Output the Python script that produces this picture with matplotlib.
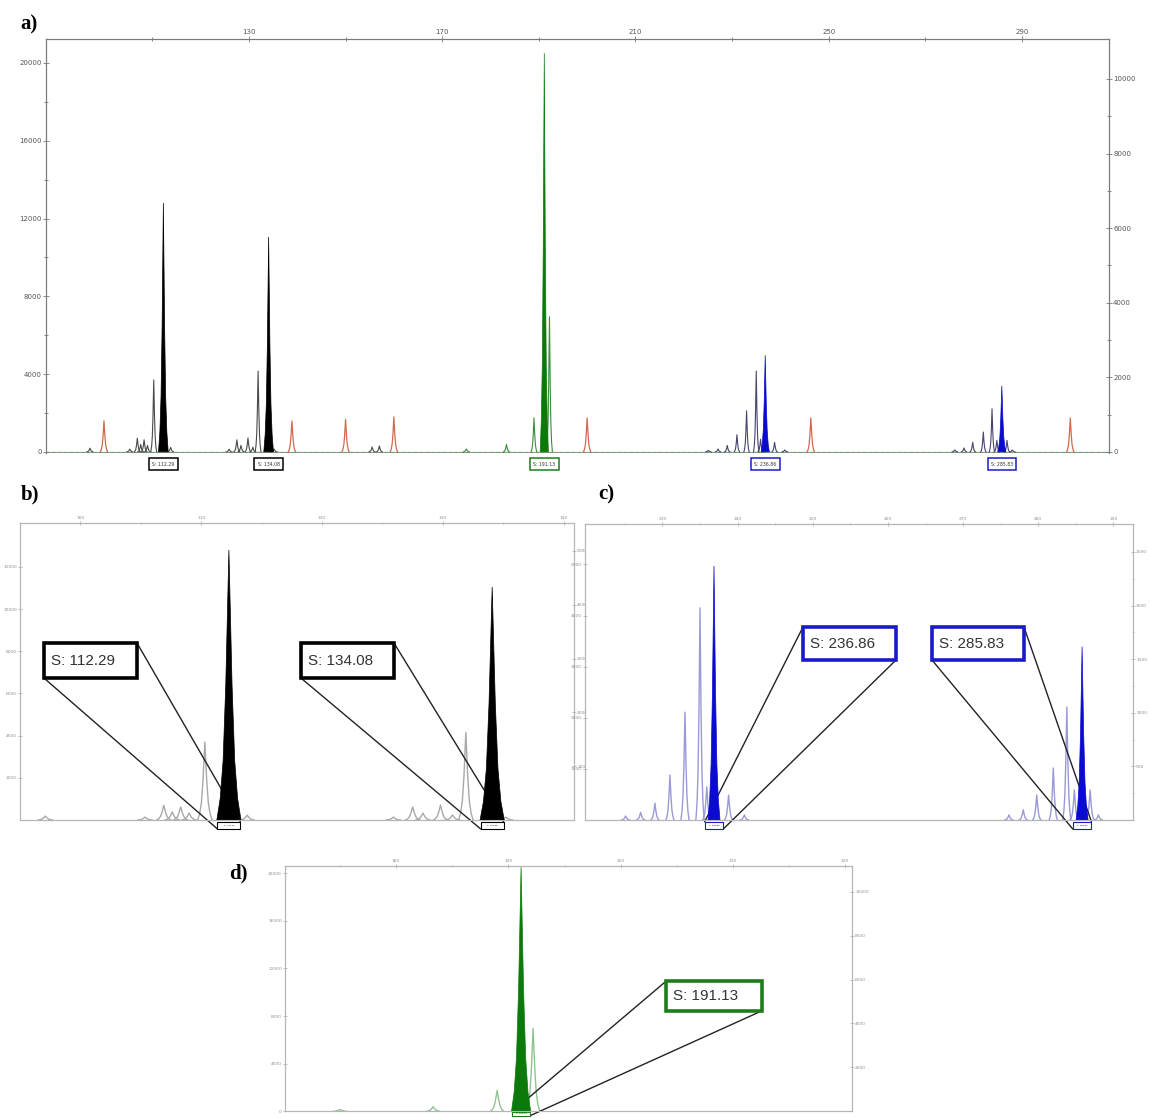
import matplotlib
matplotlib.use('Agg')
import matplotlib.pyplot as plt
import matplotlib.transforms as mtransforms
from matplotlib.patches import Rectangle, ConnectionPatch
import numpy as np

# ---- data (size in bp, height in RFU) ----
called_pos = [112.29, 134.08, 191.13, 236.86, 285.83]
called_h = [12800, 11050, 20500, 4970, 3390]
called_lbl = ['S: 112.29', 'S: 134.08', 'S: 191.13', 'S: 236.86', 'S: 285.83']
called_dye = ['black', 'black', 'green', 'blue', 'blue']

black_pos = [97.1, 105.35, 106.9, 107.6, 108.3, 109.0, 110.3, 113.8,
             125.9, 127.5, 128.35, 129.8, 130.8, 131.9, 135.2, 155.5, 157.0]
black_h = [190, 140, 700, 380, 620, 330, 3700, 230,
           140, 620, 330, 710, 240, 4150, 140, 250, 300]

green_pos = [175.0, 183.3, 189.0, 192.2]
green_h = [150, 380, 1750, 6950]

blue_pos = [225.1, 227.1, 229.0, 231.0, 233.0, 235.0, 235.9, 238.8, 240.9,
            276.1, 278.0, 279.8, 282.0, 283.8, 284.8, 286.9, 288.0]
blue_h = [80, 150, 330, 880, 2110, 4150, 650, 490, 100,
          100, 200, 490, 1020, 2210, 590, 590, 100]

red_pos = [100.0, 138.9, 150.0, 160.0, 200.0, 246.3, 300.0]
red_h = [1590, 1590, 1660, 1800, 1740, 1740, 1740]

# axis ticks of each panel
a_xticks = [130, 170, 210, 250, 290]
a_yticks = [0, 4000, 8000, 12000, 16000, 20000]
a_y2ticks = [0, 2000, 4000, 6000, 8000, 10000]
b_xticks = [100, 110, 120, 130, 140]
b_yticks = [2000, 4000, 6000, 8000, 10000, 12000]
b_y2ticks = [1000, 2000, 3000, 4000, 5000]
c_xticks = [230, 240, 250, 260, 270, 280, 290]
c_yticks = [1000, 2000, 3000, 4000, 5000]
c_y2ticks = [500, 1000, 1500, 2000, 2500]
d_xticks = [180, 190, 200, 210, 220]
d_yticks = [0, 4000, 8000, 12000, 16000, 20000]
d_y2ticks = [2000, 4000, 6000, 8000, 10000]

# peak outline template (style only)
SHAPE_DX = np.array([-1, -0.72, -0.48, -0.26, 0, 0.26, 0.48, 0.72, 1])
SHAPE_Y = np.array([0, 0.08, 0.22, 0.5, 1, 0.5, 0.22, 0.08, 0])

FILL = {'black': '#000000', 'green': '#0b7a0b', 'blue': '#0a0ad0'}
EDGE = {'black': '#000000', 'green': '#1d7d1d', 'blue': '#1a1acc'}


def draw_peaks(ax, pos, h, hw, color, fill=False, lw=0.8, z=2):
    for p, v in zip(pos, h):
        xs = p + SHAPE_DX * hw
        ys = v * SHAPE_Y
        if fill:
            ax.fill(xs, ys, color=color, lw=0.5, zorder=z)
        else:
            ax.plot(xs, ys, color=color, lw=lw, zorder=z)


def style(ax, ax2, xt, yt, y2t, spine_col, lab_col, fs, tl):
    ax.xaxis.tick_top()
    ax.set_xticks(xt)
    step = xt[1] - xt[0]
    ax.set_xticks([t + step / 2 for t in xt[:-1]] + [xt[0] - step / 2], minor=True)
    ax.set_yticks(yt)
    ax2.set_yticks(y2t)
    for a in (ax, ax2):
        a.tick_params(which='both', direction='inout', length=tl, width=0.6,
                      color=spine_col, labelsize=fs, labelcolor=lab_col, pad=1)
        a.tick_params(which='minor', length=tl * 0.7)
        for s in a.spines.values():
            s.set_color(spine_col)
            s.set_linewidth(0.8)
    ax.tick_params(axis='x', which='both', bottom=False, top=True)
    ax2.tick_params(axis='x', which='both', bottom=False, top=False, labelbottom=False)


def callout(ax, peak, label, dye, box, side, sw, sb=(-0.03, -0.006)):
    x0, y0, x1, y1 = box
    col = EDGE[dye]
    ax.add_patch(Rectangle((x0, y0), x1 - x0, y1 - y0, transform=ax.transAxes,
                           fc='white', ec=col, lw=2.6, zorder=6, clip_on=False))
    ax.text(x0 + 0.012, (y0 + y1) / 2, label, transform=ax.transAxes, fontsize=11,
            color='#333333', ha='left', va='center', zorder=7, family='Liberation Sans')
    trans = mtransforms.blended_transform_factory(ax.transData, ax.transAxes)
    sb0, sb1 = sb
    ax.add_patch(Rectangle((peak - sw, sb0), 2 * sw, sb1 - sb0, transform=trans,
                           fc='white', ec=col, lw=0.8, zorder=5, clip_on=False))
    ax.text(peak, (sb0 + sb1) / 2, label, transform=trans, fontsize=1.6, ha='center',
            va='center', zorder=6, clip_on=False)
    if side == 'left':
        pairs = [((x0, y0), (peak - sw, sb0)), ((x1, y1), (peak + sw, sb1))]
    else:
        pairs = [((x0, y1), (peak - sw, sb1)), ((x1, y0), (peak + sw, sb0))]
    for pa, pb in pairs:
        con = ConnectionPatch(xyA=pa, coordsA=ax.transAxes, xyB=pb, coordsB=trans,
                              color='#222222', lw=1.0, zorder=3)
        con.set_clip_on(False)
        ax.add_artist(con)


fig = plt.figure(figsize=(11.5, 11.18), dpi=100)

# ---------------- panel a: full electropherogram ----------------
ax = fig.add_axes([0.040, 0.5948, 0.9243, 0.3703])
ax2 = ax.twinx()
ax.set_xlim(88, 308)
ax.set_ylim(-60, 21230)
ax2.set_ylim(-30, 11070)
ax.axhline(0, color='#9a9a9a', lw=0.9, zorder=1)
ax.axhline(0, color='#5aa55a', lw=0.6, ls=(0, (4, 3)), zorder=1)
draw_peaks(ax, red_pos, red_h, 0.75, '#d2694f', lw=0.9)
draw_peaks(ax, black_pos, black_h, 0.6, '#4a4a4a')
draw_peaks(ax, green_pos, green_h, 0.6, '#3c8c3c')
draw_peaks(ax, blue_pos, blue_h, 0.55, '#45456e')
for p, h, d in zip(called_pos, called_h, called_dye):
    draw_peaks(ax, [p], [h], 1.0 if d == 'black' else 0.85, FILL[d], fill=True, z=4)
style(ax, ax2, a_xticks, a_yticks, a_y2ticks, '#7a7a7a', '#555555', 5, 4)
ax.set_yticks([2000, 6000, 10000, 14000, 18000], minor=True)
ax2.set_yticks([1000, 3000, 5000, 7000, 9000], minor=True)
ax.spines['bottom'].set_visible(False)
ax2.spines['bottom'].set_visible(False)
ta = mtransforms.blended_transform_factory(ax.transData, ax.transAxes)
for p, lbl, d in zip(called_pos, called_lbl, called_dye):
    ax.text(p, -0.027, lbl, transform=ta, ha='center', va='center', fontsize=3.3,
            color='#333333', clip_on=False, zorder=6,
            bbox=dict(boxstyle='square,pad=0.7', fc='white', ec=EDGE[d], lw=1.1))

# ---------------- panel b: black dye zoom ----------------
bx = fig.add_axes([0.0174, 0.2665, 0.4817, 0.2657])
bx2 = bx.twinx()
bx.set_xlim(99.7, 140.85)
bx.set_ylim(0, 14080)
bx2.set_ylim(0, 5520)
draw_peaks(bx, black_pos, black_h, 0.6, '#a8a8a8', lw=1.0)
style(bx, bx2, b_xticks, b_yticks, b_y2ticks, '#b5b5b5', '#909090', 3.2, 2.5)
callout(bx, called_pos[0], called_lbl[0], 'black', (0.0433, 0.478, 0.2112, 0.596), 'left', 0.95)
callout(bx, called_pos[1], called_lbl[1], 'black', (0.5072, 0.478, 0.6751, 0.596), 'left', 0.95)
for p, h in zip(called_pos[:2], called_h[:2]):
    draw_peaks(bx, [p], [h], 1.0, FILL['black'], fill=True, z=4)

# ---------------- panel c: blue dye zoom ----------------
cx = fig.add_axes([0.5087, 0.2665, 0.4765, 0.2648])
cx2 = cx.twinx()
cx.set_xlim(219.7, 292.6)
cx.set_ylim(0, 5790)
cx2.set_ylim(0, 2761)
draw_peaks(cx, blue_pos, blue_h, 0.55, '#9a9ad8', lw=1.0)
style(cx, cx2, c_xticks, c_yticks, c_y2ticks, '#b5b5b5', '#909090', 3.2, 2.5)
cx2.set_yticks([250, 750, 1250, 1750, 2250], minor=True)
callout(cx, called_pos[3], called_lbl[3], 'blue', (0.3978, 0.5405, 0.5675, 0.652), 'right', 1.25)
callout(cx, called_pos[4], called_lbl[4], 'blue', (0.6332, 0.5405, 0.8011, 0.652), 'left', 1.25)
for p, h in zip(called_pos[3:], called_h[3:]):
    draw_peaks(cx, [p], [h], 0.8, FILL['blue'], fill=True, z=4)

# ---------------- panel d: green dye zoom ----------------
dx = fig.add_axes([0.2478, 0.0060, 0.4930, 0.2194])
dx2 = dx.twinx()
dx.set_xlim(170.1, 220.6)
dx.set_ylim(0, 20600)
dx2.set_ylim(0, 11170)
draw_peaks(dx, green_pos, green_h, 0.6, '#8fc48f', lw=1.0)
style(dx, dx2, d_xticks, d_yticks, d_y2ticks, '#b5b5b5', '#909090', 3.2, 2.5)
callout(dx, called_pos[2], called_lbl[2], 'green', (0.672, 0.4096, 0.8413, 0.530), 'right', 0.8,
        sb=(-0.018, -0.002))
draw_peaks(dx, [called_pos[2]], [called_h[2]], 0.85, FILL['green'], fill=True, z=4)

# panel letters
for lbl, x, y in [('a)', 0.018, 0.9785), ('b)', 0.018, 0.558), ('c)', 0.52, 0.558), ('d)', 0.199, 0.219)]:
    fig.text(x, y, lbl, fontsize=15, fontweight='bold', family='Liberation Serif',
             ha='left', va='center')

fig.savefig('out.png', dpi=100)
